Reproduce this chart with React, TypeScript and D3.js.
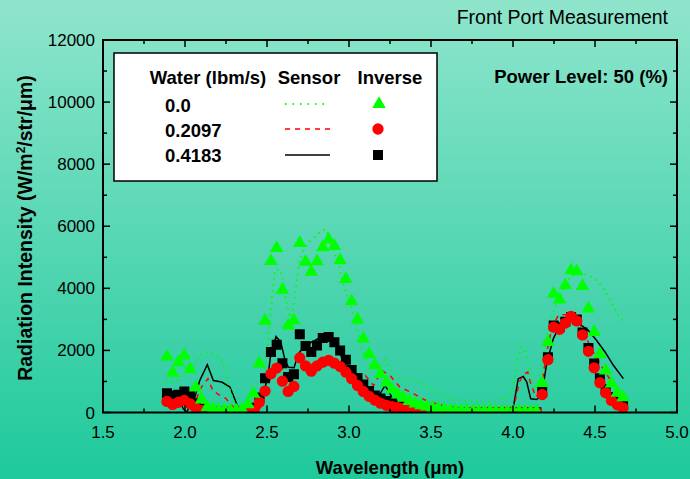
import React from "react";
import * as d3 from "d3";

// ---------- data ----------
const invWavelength = [
  1.890, 1.925, 1.960, 1.996, 2.031, 2.066, 2.101, 2.136, 2.172, 2.207,
  2.242, 2.277, 2.312, 2.348, 2.383, 2.418, 2.453, 2.488, 2.524, 2.559,
  2.594, 2.629, 2.664, 2.700, 2.735, 2.770, 2.805, 2.840, 2.876, 2.911,
  2.946, 2.981, 3.016, 3.052, 3.087, 3.122, 3.157, 3.192, 3.228, 3.263,
  3.298, 3.333, 3.368, 3.404, 3.439, 3.474, 3.509, 3.544, 3.580, 3.615,
  3.650, 3.685, 3.720, 3.756, 3.791, 3.826, 3.861, 3.896, 3.932, 3.967,
  4.002, 4.037, 4.072, 4.108, 4.143, 4.178, 4.213, 4.248, 4.284, 4.319,
  4.354, 4.389, 4.424, 4.460, 4.495, 4.530, 4.565, 4.600, 4.636, 4.671,
];
const inverse00 = [
  1800, 1280, 1620, 1830, 1400, 800, 420, 170, 110, 70,
  60, 60, 60, 90, 260, 600, 1580, 2950, 4880, 5300,
  3950, 2800, 2960, 5460, 4850, 4530, 4870, 5320, 5570, 5360,
  4900, 4300, 3580, 2990, 2380, 1880, 1530, 1240, 960, 740,
  580, 470, 370, 290, 230, 190, 150, 120, 90, 70,
  60, 50, 45, 40, 40, 35, 35, 30, 30, 30,
  30, 30, 30, 30, 30, 950, 2270, 3820, 3640, 4100,
  4580, 4550, 4070, 3350, 2590, 1880, 1350, 930, 630, 490,
];
const inverse02097 = [
  355, 260, 330, 390, 280, 140, 70, 50, 40, 30,
  30, 30, 30, 40, 50, 70, 330, 690, 1250, 1430,
  1010, 680, 840, 1760, 1500, 1330, 1500, 1620, 1680, 1590,
  1480, 1300, 1090, 870, 680, 520, 400, 300, 230, 190,
  160, 130, 110, 90, 70, 55, 40, 30, 20, 10,
  10, 10, 10, 10, 10, 10, 10, 10, 10, 10,
  10, 10, 10, 10, 10, 580, 1700, 2750, 2680, 2880,
  3100, 2950, 2500, 1970, 1440, 960, 635, 390, 250, 150,
];
const inverse04183 = [
  620, 550, 570, 680, 550, 300, 120, 60, 30, 20,
  10, 10, 10, 20, 50, 150, 480, 1100, 1950, 2180,
  1590, 1140, 1230, 2520, 2140, 1950, 2160, 2400, 2430, 2260,
  2000, 1700, 1370, 1110, 900, 690, 550, 450, 370, 300,
  240, 190, 150, 120, 90, 70, 50, 35, 20, 10,
  10, 10, 10, 10, 10, 10, 10, 10, 10, 10,
  10, 10, 10, 10, 10, 680, 1780, 2800, 2750, 2920,
  3080, 3000, 2580, 2080, 1580, 1100, 760, 500, 350, 250,
];

const sensor00Wavelength = [
  1.88, 1.91, 1.94, 1.97, 2.00, 2.04, 2.08, 2.11, 2.14, 2.17,
  2.20, 2.23, 2.25, 2.27, 2.30, 2.34, 2.38, 2.42, 2.45, 2.48,
  2.50, 2.51, 2.52, 2.53, 2.55, 2.58, 2.60, 2.62, 2.64, 2.66,
  2.68, 2.70, 2.72, 2.75, 2.79, 2.83, 2.86, 2.88, 2.90, 2.92,
  2.94, 2.96, 2.98, 3.00, 3.02, 3.05, 3.08, 3.12, 3.16, 3.19,
  3.22, 3.25, 3.28, 3.32, 3.37, 3.42, 3.47, 3.52, 3.57, 3.62,
  3.70, 3.78, 3.86, 3.93, 3.98, 4.01, 4.03, 4.05, 4.07, 4.09,
  4.11, 4.13, 4.15, 4.18, 4.21, 4.24, 4.27, 4.30, 4.34, 4.38,
  4.42, 4.46, 4.50, 4.54, 4.58, 4.61, 4.64, 4.67,
];
const sensor00 = [
  1000, 950, 1000, 1100, 1250, 1450, 1750, 1930, 1950, 1900,
  1800, 1620, 1300, 800, 300, 120, 100, 150, 300, 1000,
  2000, 2500, 3100, 3700, 4600, 4600, 4200, 3500, 3050, 3350,
  4150, 4900, 5200, 5450, 5650, 5850, 5900, 5650, 5350, 5000,
  4700, 4200, 3880, 3600, 3290, 2650, 2000, 1550, 1350, 1450,
  1700, 1400, 1150, 1050, 1050, 1000, 850, 700, 550, 430,
  380, 340, 340, 450, 500, 1100, 1750, 2100, 2050, 1700,
  1100, 750, 900, 1700, 2600, 3150, 3550, 3950, 4300, 4450,
  4480, 4420, 4300, 4080, 3750, 3450, 3150, 2950,
];

const sensor02097Wavelength = [
  1.88, 1.92, 1.96, 1.99, 2.02, 2.06, 2.10, 2.14, 2.17, 2.21,
  2.25, 2.29, 2.33, 2.40, 2.45, 2.48, 2.51, 2.55, 2.58, 2.61,
  2.64, 2.67, 2.70, 2.75, 2.80, 2.85, 2.90, 2.95, 3.00, 3.05,
  3.10, 3.15, 3.20, 3.25, 3.31, 3.38, 3.46, 3.55, 3.70, 3.85,
  3.98, 4.01, 4.04, 4.07, 4.09, 4.11, 4.14, 4.17, 4.20, 4.24,
  4.28, 4.32, 4.36, 4.40, 4.46, 4.50, 4.55, 4.60, 4.65,
];
const sensor02097 = [
  380, 300, 350, 330, 120, 320, 820, 1090, 700, 560,
  450, 200, 30, 0, 60, 400, 950, 1450, 1450, 1350,
  950, 1000, 1350, 1500, 1600, 1700, 1620, 1450, 1280, 1150,
  1190, 870, 1350, 1190, 820, 650, 410, 250, 110, 50,
  60, 300, 1000, 1250, 1300, 900, 500, 650, 1800, 2800,
  3150, 3150, 3150, 2950, 2250, 1850, 1400, 1000, 750,
];

const sensor04183Wavelength = [
  1.88, 1.91, 1.94, 1.97, 1.99, 2.01, 2.06, 2.09, 2.136, 2.173,
  2.224, 2.274, 2.311, 2.331, 2.36, 2.44, 2.477, 2.508, 2.523, 2.555,
  2.584, 2.61, 2.63, 2.665, 2.691, 2.732, 2.793, 2.843, 2.884, 2.925,
  2.945, 2.976, 3.016, 3.067, 3.128, 3.179, 3.20, 3.22, 3.27, 3.39,
  3.66, 3.95, 4.002, 4.032, 4.063, 4.084, 4.108, 4.144, 4.175, 4.205,
  4.246, 4.276, 4.317, 4.358, 4.409, 4.459, 4.51, 4.561, 4.612, 4.673,
];
const sensor04183 = [
  600, 650, 560, 330, 120, 10, 490, 1030, 1540, 1030,
  980, 820, 330, 60, 0, 30, 550, 1250, 1890, 2450,
  2270, 1680, 1460, 1440, 1890, 2160, 2320, 2480, 2450, 2150,
  1900, 1550, 1140, 820, 600, 480, 700, 870, 420, 220,
  60, 30, 170, 1090, 1160, 980, 440, 420, 550, 1570,
  2380, 2700, 2910, 2970, 2840, 2650, 2320, 1950, 1520, 1090,
];

const xTickValues = [1.5, 2.0, 2.5, 3.0, 3.5, 4.0, 4.5, 5.0];
const yTickValues = [0, 2000, 4000, 6000, 8000, 10000, 12000];
const legendLabels = ["0.0", "0.2097", "0.4183"];

// ---------- layout ----------
const W = 690;
const H = 479;
const L = 103;
const R = 677;
const T = 40;
const B = 412.5;
const FONT = "'Liberation Sans', Arial, Helvetica, sans-serif";

const x = d3.scaleLinear().domain([1.5, 5.0]).range([L, R]);
const y = d3.scaleLinear().domain([0, 12000]).range([B, T]);

const line = (wl: number[], v: number[]) =>
  d3
    .line<number>()
    .x((_, i) => x(wl[i]))
    .y((d) => y(d))(v) || "";

const tri = d3.symbol().type(d3.symbolTriangle).size(80)() || "";
const circ = d3.symbol().type(d3.symbolCircle).size(100)() || "";
const sq = d3.symbol().type(d3.symbolSquare).size(100)() || "";

export default function App() {
  const xMinor = d3.range(1.5, 5.001, 0.25);
  const yMinor = d3.range(0, 12001, 1000);
  const isMajorX = (v: number) => Math.abs(v * 2 - Math.round(v * 2)) < 1e-6;
  const isMajorY = (v: number) => v % 2000 === 0;

  return (
    <svg
      width={W}
      height={H}
      style={{ position: "absolute", left: 0, top: 0, display: "block" }}
      fontFamily={FONT}
    >
      <defs>
        <linearGradient id="bg" x1="0" y1="0" x2="0" y2="1">
          <stop offset="0" stopColor="#8fe5cc" />
          <stop offset="1" stopColor="#1ec99b" />
        </linearGradient>
        <clipPath id="plot">
          <rect x={L} y={T} width={R - L} height={B - T} />
        </clipPath>
      </defs>
      <rect x={0} y={0} width={W} height={H} fill="url(#bg)" />

      {/* data */}
      <g clipPath="url(#plot)">
        <path d={line(sensor04183Wavelength, sensor04183)} fill="none" stroke="#000" strokeWidth={1.5} />
        <path
          d={line(sensor02097Wavelength, sensor02097)}
          fill="none"
          stroke="#ff0000"
          strokeWidth={1.5}
          strokeDasharray="5,5"
        />
        <path
          d={line(sensor00Wavelength, sensor00)}
          fill="none"
          stroke="#00ff00"
          strokeWidth={2}
          strokeDasharray="1.5,4.5"
        />
        {inverse04183.map((v, i) => (
          <path key={"s" + i} d={sq} transform={`translate(${x(invWavelength[i])},${y(v)})`} fill="#000" />
        ))}
        {inverse02097.map((v, i) => (
          <path key={"c" + i} d={circ} transform={`translate(${x(invWavelength[i])},${y(v)})`} fill="#ff0000" />
        ))}
        {inverse00.map((v, i) => (
          <path key={"t" + i} d={tri} transform={`translate(${x(invWavelength[i])},${y(v)})`} fill="#00ff00" />
        ))}
      </g>

      {/* frame */}
      <rect x={L} y={T} width={R - L} height={B - T} fill="none" stroke="#000" strokeWidth={2} />
      {xMinor.map((v) => {
        const len = isMajorX(v) ? 7 : 4;
        return (
          <g key={"xt" + v}>
            <line x1={x(v)} x2={x(v)} y1={B} y2={B - len} stroke="#000" strokeWidth={1.5} />
            <line x1={x(v)} x2={x(v)} y1={T} y2={T + len} stroke="#000" strokeWidth={1.5} />
          </g>
        );
      })}
      {yMinor.map((v) => {
        const len = isMajorY(v) ? 7 : 4;
        return (
          <g key={"yt" + v}>
            <line x1={L} x2={L + len} y1={y(v)} y2={y(v)} stroke="#000" strokeWidth={1.5} />
            <line x1={R} x2={R - len} y1={y(v)} y2={y(v)} stroke="#000" strokeWidth={1.5} />
          </g>
        );
      })}
      {xTickValues.map((v) => (
        <text key={"xl" + v} x={x(v)} y={438} textAnchor="middle" fontSize={17} fill="#000">
          {d3.format(".1f")(v)}
        </text>
      ))}
      {yTickValues.map((v) => (
        <text key={"yl" + v} x={95} y={y(v) + 6} textAnchor="end" fontSize={17} fill="#000">
          {v}
        </text>
      ))}

      {/* axis titles */}
      <text x={390} y={474} textAnchor="middle" fontSize={18.5} fontWeight="bold" fill="#000">
        Wavelength (μm)
      </text>
      <text
        transform={`translate(32,228) rotate(-90)`}
        textAnchor="middle"
        fontSize={19.5}
        fontWeight="bold"
        fill="#000"
      >
        Radiation Intensity (W/m
        <tspan dy={-7} fontSize={12}>2</tspan>
        <tspan dy={7}>/str/μm)</tspan>
      </text>

      <text x={668} y={24} textAnchor="end" fontSize={19.5} fill="#000">
        Front Port Measurement
      </text>
      <text x={668} y={83} textAnchor="end" fontSize={18.5} fontWeight="bold" fill="#000">
        Power Level: 50 (%)
      </text>

      {/* legend */}
      <rect x={114} y={53} width={323} height={128} fill="#fff" stroke="#000" strokeWidth={1.5} />
      <g fontSize={18.5} fontWeight="bold" fill="#000">
        <text x={208} y={84} textAnchor="middle">Water (lbm/s)</text>
        <text x={309} y={84} textAnchor="middle">Sensor</text>
        <text x={390} y={84} textAnchor="middle">Inverse</text>
        {legendLabels.map((l, i) => (
          <text key={l} x={165} y={112 + i * 25}>
            {l}
          </text>
        ))}
      </g>
      <line x1={285} x2={330} y1={104} y2={104} stroke="#00ff00" strokeWidth={2} strokeDasharray="1.5,6" />
      <line x1={285} x2={330} y1={129} y2={129} stroke="#ff0000" strokeWidth={1.5} strokeDasharray="5,5" />
      <line x1={285} x2={330} y1={155} y2={155} stroke="#000" strokeWidth={1.5} />
      <path d={tri} transform="translate(379,104)" fill="#00ff00" />
      <path d={circ} transform="translate(378,129)" fill="#ff0000" />
      <path d={sq} transform="translate(378,155)" fill="#000" />
    </svg>
  );
}
